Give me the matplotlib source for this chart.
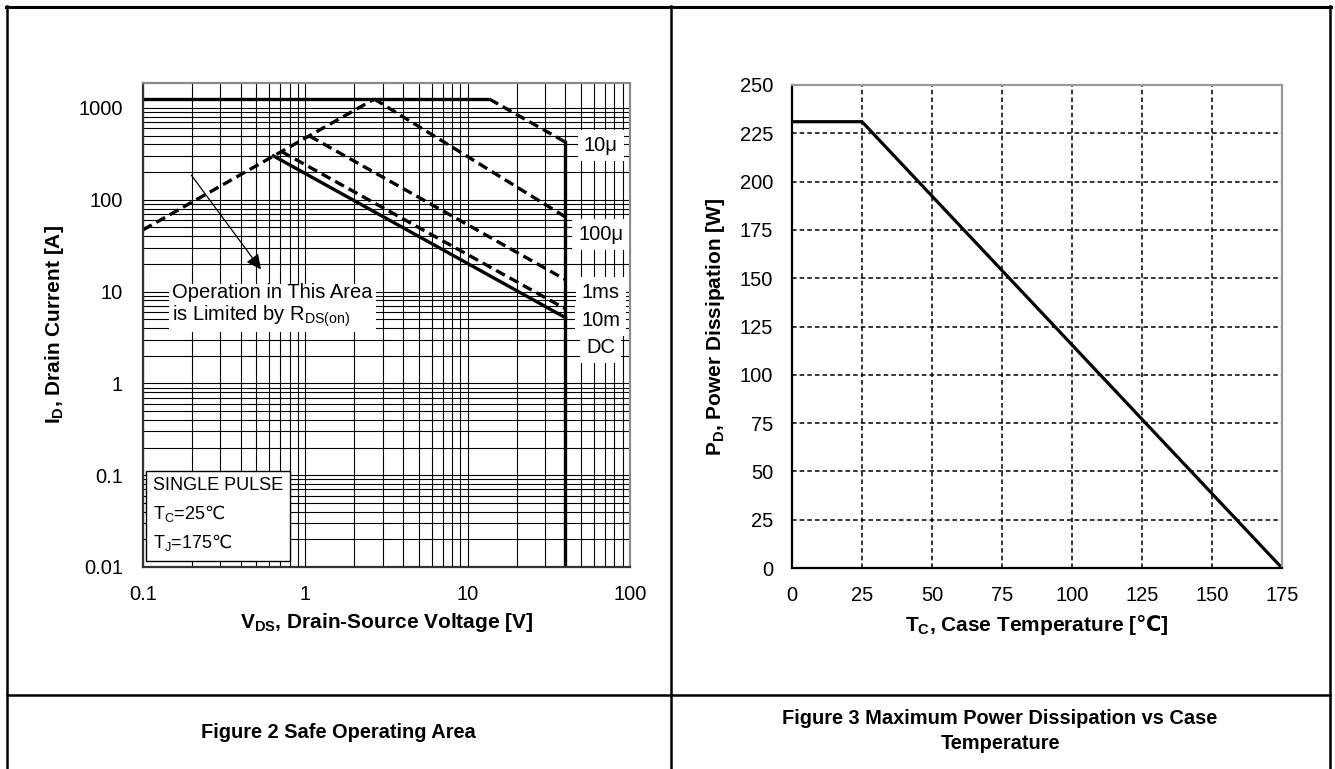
import matplotlib
matplotlib.use('Agg')
import matplotlib.pyplot as plt
from matplotlib.lines import Line2D
from matplotlib.ticker import LogLocator, NullFormatter

plt.rcParams['font.family'] = ['Liberation Sans', 'DejaVu Sans']
plt.rcParams['mathtext.fontset'] = 'custom'
plt.rcParams['mathtext.rm'] = 'Liberation Sans'
plt.rcParams['mathtext.bf'] = 'Liberation Sans:bold'
plt.rcParams['mathtext.it'] = 'Liberation Sans:italic'
# degree-Celsius sign comes from DejaVu (regular via \mathtt, bold via \mathsf)
plt.rcParams['mathtext.tt'] = 'DejaVu Sans'
plt.rcParams['mathtext.sf'] = 'DejaVu Sans:bold'

# SOA boundaries, V_DS [V] / I_D [A]
v_lim, i_lim = [0.1, 13.6], [1250, 1250]        # package current limit
v_10us, i_10us = [13.6, 40], [1250, 425]
v_rds, i_rds = [0.1, 2.66], [47, 1250]          # R_DS(on) limit
v_100us, i_100us = [2.66, 40], [1250, 65]
v_1ms, i_1ms = [1.06, 40], [495, 13.5]
v_10ms, i_10ms = [0.713, 40], [335, 6.5]
v_dc, i_dc = [0.637, 40], [300, 5.2]
v_bv, i_bv = [40, 40], [425, 0.01]              # breakdown voltage
pulse_labels = ['10μ', '100μ', '1ms', '10m', 'DC']
pulse_label_i = [386, 41.7, 9.75, 4.84, 2.46]

x_ticks = [0.1, 1, 10, 100]
x_ticklabels = ['0.1', '1', '10', '100']
y_ticks = [0.01, 0.1, 1, 10, 100, 1000]
y_ticklabels = ['0.01', '0.1', '1', '10', '100', '1000']

# power derating
tc = [0, 25, 175]
pd = [231, 231, 0]
tc_ticks = [0, 25, 50, 75, 100, 125, 150, 175]
pd_ticks = [0, 25, 50, 75, 100, 125, 150, 175, 200, 225, 250]

W, H = 1335, 769
fig = plt.figure(figsize=(W / 100, H / 100), dpi=100)
fs = 14.5      # tick labels / notes
fs_lab = 15    # axis titles
fs_cap = 14.4  # captions

def fx(px):
    return px / W

def fy(py):
    return 1 - py / H

# ---------- Figure 2: SOA ----------
ax1 = fig.add_axes([fx(143), fy(567), fx(630) - fx(143), fy(83) - fy(567)])
ax1.set_xscale('log')
ax1.set_yscale('log')
ax1.set_xlim(0.1, 100)
ax1.set_ylim(0.01, 1870)
ax1.set_xticks(x_ticks, x_ticklabels)
ax1.set_yticks(y_ticks, y_ticklabels)
ax1.xaxis.set_minor_locator(LogLocator(base=10, subs=range(2, 10), numticks=20))
ax1.yaxis.set_minor_locator(LogLocator(base=10, subs=range(2, 10), numticks=20))
ax1.xaxis.set_minor_formatter(NullFormatter())
ax1.yaxis.set_minor_formatter(NullFormatter())
ax1.tick_params(which='both', length=0, labelsize=fs)
ax1.tick_params(axis='x', pad=13)
ax1.tick_params(axis='y', pad=14.5)
ax1.grid(which='both', color='black', linewidth=0.8)
ax1.set_axisbelow(True)

lw = 2.4
dash = (3, 1.6)
ax1.plot(v_lim, i_lim, color='black', lw=lw, solid_capstyle='butt')
ax1.plot(v_10us, i_10us, color='black', lw=lw, ls=(0, dash))
ax1.plot(v_rds, i_rds, color='black', lw=lw, ls=(0, dash))
ax1.plot(v_100us, i_100us, color='black', lw=lw, ls=(0, dash))
ax1.plot(v_1ms, i_1ms, color='black', lw=lw, ls=(0, dash))
ax1.plot(v_10ms, i_10ms, color='black', lw=lw, ls=(0, dash))
ax1.plot(v_dc, i_dc, color='black', lw=lw)
ax1.plot(v_bv, i_bv, color='black', lw=lw)

for lab, iv in zip(pulse_labels, pulse_label_i):
    ax1.text(66, iv, lab, fontsize=fs, ha='center', va='center',
             bbox=dict(boxstyle='square,pad=0.3', facecolor='white', edgecolor='none'))

ax1.text(0.151, 7.0, 'Operation in This Area\nis Limited by R$_\\mathrm{DS(on)}$',
         fontsize=fs, ha='left', va='center', linespacing=1.1,
         bbox=dict(boxstyle='square,pad=0.15', facecolor='white', edgecolor='none'))
ax1.annotate('', xy=(0.545, 16.5), xytext=(0.194, 196),
             arrowprops=dict(arrowstyle='-|>', color='black', lw=0.9, mutation_scale=22))
ax1.text(0.1152, 0.0367,
         'SINGLE PULSE\nT$_\\mathrm{C}$=25$\\mathtt{℃}$\nT$_\\mathrm{J}$=175$\\mathtt{℃}$',
         fontsize=13, ha='left', va='center', linespacing=1.55,
         bbox=dict(boxstyle='square,pad=0.4', facecolor='white', edgecolor='black', linewidth=1))

ax1.set_xlabel('V$_\\mathbf{DS}$, Drain-Source Voltage [V]', fontsize=fs_lab,
               fontweight='bold', labelpad=5)
ax1.set_ylabel('I$_\\mathbf{D}$, Drain Current [A]', fontsize=fs_lab,
               fontweight='bold', labelpad=9)
for s in ['left', 'bottom']:
    ax1.spines[s].set_color('#333333')
for s in ['top', 'right']:
    ax1.spines[s].set_color('#8a8a8a')
for s in ax1.spines.values():
    s.set_linewidth(1.6)

# ---------- Figure 3: power derating ----------
ax2 = fig.add_axes([fx(792), fy(568), fx(1282) - fx(792), fy(85) - fy(568)])
ax2.set_xlim(0, 175)
ax2.set_ylim(0, 250)
ax2.set_xticks(tc_ticks)
ax2.set_yticks(pd_ticks)
ax2.tick_params(length=0, labelsize=fs)
ax2.tick_params(axis='x', pad=13)
ax2.tick_params(axis='y', pad=13.5)
ax2.grid(color='black', linewidth=1.1, linestyle=(0, (3, 2)))
ax2.set_axisbelow(True)
ax2.plot(tc, pd, color='black', lw=2.3)
ax2.set_xlabel('T$_\\mathbf{C}$, Case Temperature [$\\mathsf{℃}$]', fontsize=fs_lab,
               fontweight='bold', labelpad=5)
ax2.set_ylabel('P$_\\mathbf{D}$, Power Dissipation [W]', fontsize=fs_lab,
               fontweight='bold', labelpad=9)
for s in ['left', 'bottom']:
    ax2.spines[s].set_color('black')
for s in ['top', 'right']:
    ax2.spines[s].set_color('#9a9a9a')
for s in ax2.spines.values():
    s.set_linewidth(1.6)

# table frame
def hline(py, x0, x1, w):
    fig.add_artist(Line2D([fx(x0), fx(x1)], [fy(py), fy(py)], color='black', lw=w))

def vline(px, y0, y1, w):
    fig.add_artist(Line2D([fx(px), fx(px)], [fy(y0), fy(y1)], color='black', lw=w))

hline(6.5, 6, 1331, 2.2)
hline(695, 7, 1330, 1.8)
vline(7, 5.5, 769, 1.8)
vline(671, 5.5, 769, 1.8)
vline(1330, 5.5, 769, 1.8)

fig.text(fx(338), fy(733), 'Figure 2 Safe Operating Area', fontsize=fs_cap,
         fontweight='bold', ha='center', va='center')
fig.text(fx(1000), fy(731), 'Figure 3 Maximum Power Dissipation vs Case\nTemperature',
         fontsize=fs_cap, fontweight='bold', ha='center', va='center', linespacing=1.45)

fig.savefig('out.png', dpi=100)
